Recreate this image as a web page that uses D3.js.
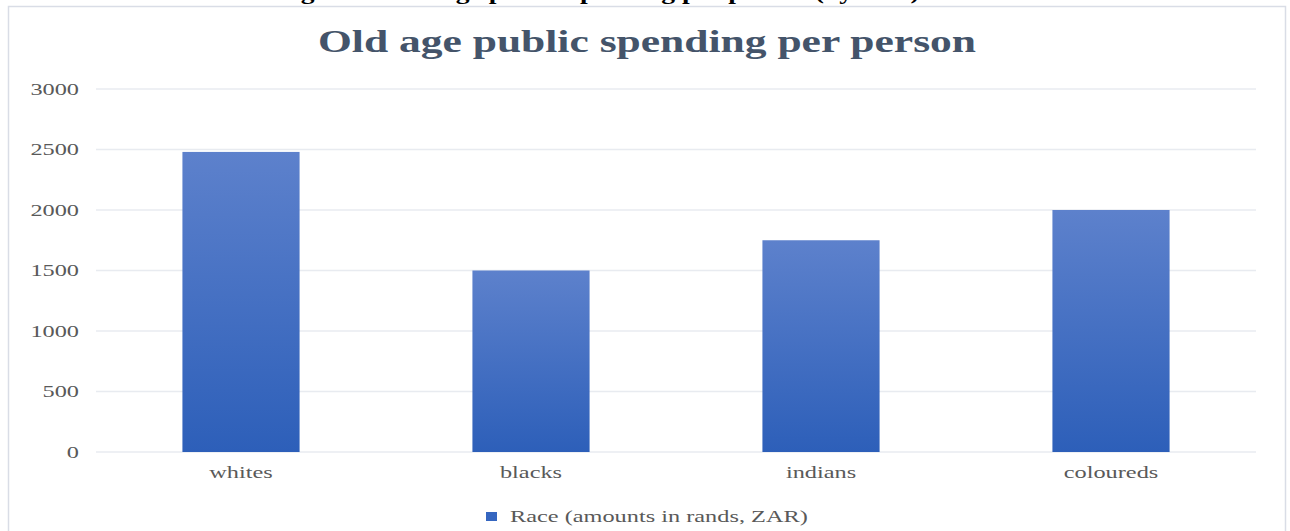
<!DOCTYPE html>
<html>
<head>
<meta charset="utf-8">
<script src="https://d3js.org/d3.v7.min.js"></script>
<style>
  html, body { margin: 0; padding: 0; background: #fff; }
  svg { display: block; }
</style>
</head>
<body>
<script>
// Chart values
const categories = ['whites', 'blacks', 'indians', 'coloureds']
const values = [2480, 1500, 1750, 2000]
const yTicks = [0, 500, 1000, 1500, 2000, 2500, 3000]
const title = 'Old age public spending per person'
const caption = 'Figure 2: Old age public spending per person (by race)'
const seriesName = 'Race (amounts in rands, ZAR)'

const width = 1290
const height = 531
const margin = { top: 89, right: 34, bottom: 79, left: 96 }

// the source picture is stretched sideways, so texts get a wider scale
const stretch = 1.52
const serif = "'Liberation Serif', 'Times New Roman', serif"

const svg = d3.select('body').append('svg')
  .attr('width', width)
  .attr('height', height)

// gradient for the bars
const grad = svg.append('defs').append('linearGradient')
  .attr('id', 'barGrad')
  .attr('x1', 0).attr('y1', 0).attr('x2', 0).attr('y2', 1)
grad.append('stop').attr('offset', '0%').attr('stop-color', '#5d81cc')
grad.append('stop').attr('offset', '100%').attr('stop-color', '#2d5fb9')

// caption of the page, cut off at the top
svg.append('g')
  .attr('transform', 'translate(598,-1) scale(1.38,1)')
  .append('text')
  .text(caption)
  .attr('text-anchor', 'middle')
  .attr('font-family', serif)
  .attr('font-weight', 'bold')
  .attr('font-size', 20)
  .attr('fill', '#000')

// chart frame
svg.append('rect')
  .attr('x', 8.5)
  .attr('y', 6.5)
  .attr('width', 1277)
  .attr('height', 540)
  .attr('fill', 'none')
  .attr('stroke', '#d9dde6')
  .attr('stroke-width', 1.5)

// title
svg.append('g')
  .attr('transform', 'translate(647,52) scale(1.36,1)')
  .append('text')
  .text(title)
  .attr('text-anchor', 'middle')
  .attr('font-family', serif)
  .attr('font-weight', 'bold')
  .attr('font-size', 32)
  .attr('fill', '#44546a')

const x = d3.scaleBand()
  .domain(categories)
  .range([margin.left, width - margin.right])
  .paddingInner(0.596)
  .paddingOuter(0.298)

const y = d3.scaleLinear()
  .domain([0, 3000])
  .range([height - margin.bottom, margin.top])

// gridlines
svg.append('g')
  .selectAll('line')
  .data(yTicks)
  .join('line')
  .attr('x1', margin.left)
  .attr('x2', width - margin.right)
  .attr('y1', d => y(d))
  .attr('y2', d => y(d))
  .attr('stroke', '#e8ebf0')
  .attr('stroke-width', 1.5)

// y axis labels
svg.append('g')
  .attr('transform', `translate(${margin.left},0)`)
  .call(d3.axisLeft(y).tickValues(yTicks).tickFormat(d3.format('d')).tickSize(0).tickPadding(17 / stretch))
  .call(g => g.select('.domain').remove())
  .call(g => g.selectAll('text')
    .attr('transform', `scale(${stretch},1)`)
    .attr('font-family', serif)
    .attr('font-size', 16)
    .attr('fill', '#595959'))

// bars
svg.append('g')
  .selectAll('rect')
  .data(values)
  .join('rect')
  .attr('x', (d, i) => x(categories[i]))
  .attr('width', x.bandwidth())
  .attr('y', d => y(d))
  .attr('height', d => y(0) - y(d))
  .attr('fill', 'url(#barGrad)')

// x axis labels
svg.append('g')
  .attr('transform', `translate(0,${y(0)})`)
  .call(d3.axisBottom(x).tickSize(0).tickPadding(15))
  .call(g => g.select('.domain').remove())
  .call(g => g.selectAll('text')
    .attr('transform', `scale(${stretch},1)`)
    .attr('font-family', serif)
    .attr('font-size', 16)
    .attr('fill', '#595959'))

// legend
const legend = svg.append('g').attr('transform', 'translate(486,512)')
legend.append('rect')
  .attr('width', 11)
  .attr('height', 9)
  .attr('fill', '#3566c0')
legend.append('text')
  .text(seriesName)
  .attr('transform', `translate(24,10) scale(${stretch},1)`)
  .attr('font-family', serif)
  .attr('font-size', 16)
  .attr('fill', '#595959')
</script>
</body>
</html>
